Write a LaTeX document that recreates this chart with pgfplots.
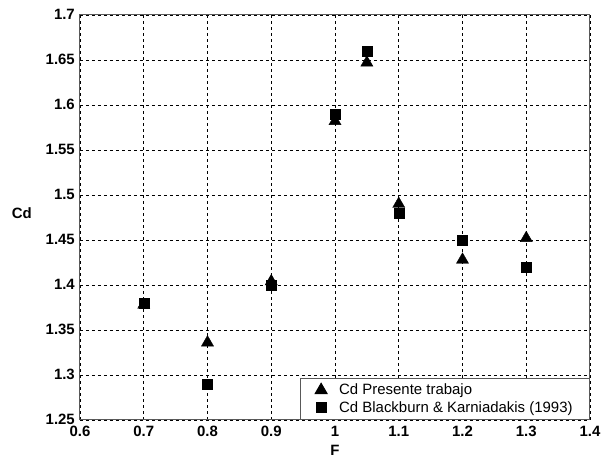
\documentclass[border=0pt]{standalone}
\usepackage{pgfplots}
\pgfplotsset{compat=1.18}
\usepackage{fontspec}
\setmainfont{Liberation Sans}
\begin{document}
\begin{tikzpicture}[x=1bp,y=1bp]
\begin{axis}[
  at={(0,0)}, anchor=south west,
  scale only axis,
  width=510bp, height=405bp,
  xmin=0.6, xmax=1.4, ymin=1.25, ymax=1.7,
  xtick={0.6,0.7,...,1.41},
  ytick={1.25,1.3,...,1.71},
  /pgf/number format/assume math mode=true,
  /pgf/number format/fixed,
  /pgf/number format/precision=2,
  xticklabel style={font=\fontsize{15}{15}\selectfont\bfseries, inner sep=0pt, yshift=-6bp},
  yticklabel style={font=\fontsize{15}{15}\selectfont\bfseries, inner sep=0pt, xshift=-5bp, yshift=1bp},
  axis line style={draw=black!65, line width=1bp},
  grid=major,
  major grid style={black, line width=0.6bp, dash pattern=on 3bp off 3bp},
  tick style={draw=none},
  xlabel={\textbf{F}}, xlabel style={font=\fontsize{15}{15}\selectfont, at={(axis description cs:0.5,-0.074)}, anchor=center},
  ylabel={\textbf{Cd}}, ylabel style={font=\fontsize{15}{15}\selectfont, rotate=-90, at={(axis description cs:-0.114,0.511)}, anchor=center},
  legend style={at={(1,0)}, anchor=south east, draw=black!65, line width=0.8bp,
    font=\fontsize{15}{16}\selectfont, row sep=1bp, inner xsep=15bp, inner ysep=4bp,
    /tikz/every odd column/.append style={column sep=10bp}},
  legend cell align=left,
  legend image code/.code={\path (0bp,0bp) (10bp,0bp); \draw[#1] plot coordinates {(5bp,0bp)};},
  clip=false,
]
\addplot[only marks, mark=triangle*, mark size=7bp, black] coordinates {
 (0.7,1.378) (0.8,1.336) (0.9,1.404) (1.0,1.582) (1.05,1.647) (1.1,1.490) (1.2,1.428) (1.3,1.452)};
\addlegendentry{Cd Presente trabajo}
\addplot[only marks, mark=square*, mark size=5bp, black] coordinates {
 (0.7,1.38) (0.8,1.29) (0.9,1.40) (1.0,1.59) (1.05,1.66) (1.1,1.48) (1.2,1.45) (1.3,1.42)};
\addlegendentry{Cd Blackburn \& Karniadakis (1993)}
\end{axis}
\path[use as bounding box] (-80bp,-35bp) rectangle (529bp,420bp);
\end{tikzpicture}
\end{document}
